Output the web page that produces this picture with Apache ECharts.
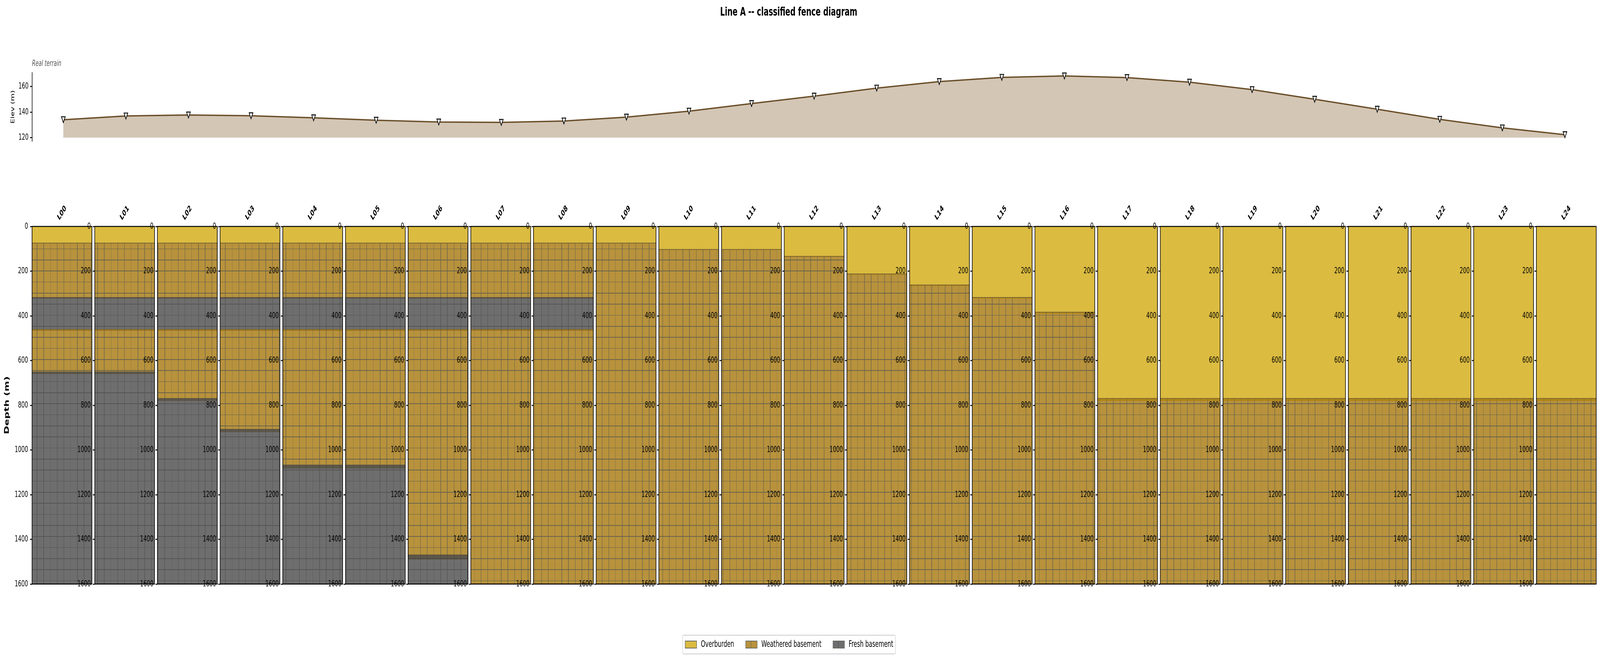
<!DOCTYPE html>
<html>
<head>
<meta charset="utf-8">
<style>html,body{margin:0;padding:0;background:#fff;overflow:hidden;height:100%}#c{width:6739px;height:1688px;transform-origin:0 0}</style>
<script src="https://cdn.jsdelivr.net/npm/echarts@6/dist/echarts.min.js"></script>
</head>
<body>
<div id="c"></div>
<script>
const lineNames = ['L00','L01','L02','L03','L04','L05','L06','L07','L08','L09','L10','L11','L12','L13','L14','L15','L16','L17','L18','L19','L20','L21','L22','L23','L24'];
const elevation = [134.0,136.9,137.7,137.1,135.5,133.6,132.2,131.9,133.0,136.0,140.7,146.6,152.4,158.7,163.8,167.1,168.2,166.9,163.3,157.5,150.0,142.2,134.3,127.6,122.3];
const overburdenBase = [74,74,74,74,74,74,74,74,74,74,102,102,133,212,261,317,383,769,769,769,769,769,769,769,769];
const freshBandTop = [317,317,317,317,317,317,317,317,317,null,null,null,null,null,null,null,null,null,null,null,null,null,null,null,null];
const freshBandBase = [459,459,459,459,459,459,459,459,459,null,null,null,null,null,null,null,null,null,null,null,null,null,null,null,null];
const weatheredBase = [650,650,769,907,1067,1067,1469,1600,1600,1600,1600,1600,1600,1600,1600,1600,1600,1600,1600,1600,1600,1600,1600,1600,1600];
const MAX_DEPTH = 1600;
const depthTicks = 200;
const elevTicks = [120,140,160];

// The window may be narrower than the chart's design width: fit the width to it.
const DESIGN_W = 6739;
if (window.innerWidth < DESIGN_W) {
  document.getElementById('c').style.transform = 'scaleX(' + (window.innerWidth / DESIGN_W) + ')';
}

const COL_O = '#dbbb40', COL_W = '#b8923c', COL_F = '#6e6e6e';
const LINE_W = '#69634c', LINE_F = '#555555';
const FONT = '"DejaVu Sans"';

function tile(base, line) {
  const c = document.createElement('canvas');
  c.width = 85; c.height = 85;
  const x = c.getContext('2d');
  x.fillStyle = base; x.fillRect(0,0,85,85);
  x.fillStyle = line;
  x.fillRect(40,0,5,85);
  x.fillRect(0,40,85,5);
  return {image:c, repeat:'repeat', scaleX:1/3, scaleY:1/3, x:0, y:0};
}
function legendTile(base, line) {
  const c = document.createElement('canvas');
  c.width = 48; c.height = 18;
  const x = c.getContext('2d');
  x.fillStyle = base; x.fillRect(0,0,48,18);
  x.fillStyle = line;
  x.fillRect(21,0,2,18);
  return {image:c, repeat:'repeat'};
}
const PAT_W = tile(COL_W, LINE_W);
const PAT_F = tile(COL_F, LINE_F);
const classes = {
  O:{name:'Overburden', fill:COL_O},
  W:{name:'Weathered basement', fill:PAT_W},
  F:{name:'Fresh basement', fill:PAT_F}
};
const stripTint = {
  OW:'rgba(170,125,0,0.6)',
  WF:'rgba(70,60,30,0.45)',
  FW:'rgba(120,85,0,0.45)'
};

function layersOf(i) {
  const out = [{c:'O', top:0, bot:overburdenBase[i]}];
  if (freshBandTop[i] != null) {
    out.push({c:'W', top:overburdenBase[i], bot:freshBandTop[i]});
    out.push({c:'F', top:freshBandTop[i], bot:freshBandBase[i]});
    out.push({c:'W', top:freshBandBase[i], bot:weatheredBase[i]});
  } else {
    out.push({c:'W', top:overburdenBase[i], bot:weatheredBase[i]});
  }
  if (weatheredBase[i] < MAX_DEPTH) out.push({c:'F', top:weatheredBase[i], bot:MAX_DEPTH});
  return out;
}

const PANEL_LEFT = 135, PANEL_PITCH = 264, PANEL_W = 252, PANEL_TOP = 580, PANEL_H = 916;
const grids = [], xAxes = [], yAxes = [], series = [];

grids.push({left:135, top:186, width:6588, height:175.7, show:false});
xAxes.push({type:'value', gridIndex:0, min:-0.5, max:24.5, show:false});
yAxes.push({type:'value', gridIndex:0, min:117.2, max:170.8, splitLine:{show:false},
  name:'Elev (m)', nameLocation:'middle', nameGap:70, nameRotate:90,
  nameTextStyle:{fontFamily:FONT, fontSize:20.5, color:'#000'},
  axisLine:{show:true, onZero:false, lineStyle:{color:'#000', width:2.5}},
  axisTick:{show:true, length:8, lineStyle:{color:'#000', width:2.5}, customValues:elevTicks},
  axisLabel:{fontFamily:FONT, fontSize:22, color:'#000', margin:15, customValues:elevTicks}});
series.push({type:'line', xAxisIndex:0, yAxisIndex:0, animation:false,
  data:elevation.map((v,i)=>[i,v]), showSymbol:true, symbol:'triangle', symbolSize:[16,15], symbolRotate:180,
  itemStyle:{color:'#fff', borderColor:'#000', borderWidth:2.5},
  lineStyle:{color:'#6b4f2a', width:3.5},
  areaStyle:{color:'#d3c6b5', opacity:1, origin:120}, z:3});

lineNames.forEach((nm,i)=>{
  const g = i+1;
  grids.push({left:PANEL_LEFT+PANEL_PITCH*i, top:PANEL_TOP, width:PANEL_W, height:PANEL_H,
    show:true, z:6, backgroundColor:'transparent', borderColor:'#000', borderWidth:2.5});
  xAxes.push({type:'category', gridIndex:g, position:'top', data:[nm], z:7,
    axisLine:{show:false}, axisTick:{show:false}, splitLine:{show:false},
    axisLabel:{rotate:45, margin:34, align:'center', verticalAlign:'middle', fontFamily:FONT, fontWeight:'bold', fontSize:21.5, color:'#000', interval:0}});
  const y = {type:'value', gridIndex:g, inverse:true, min:0, max:MAX_DEPTH, interval:depthTicks, z:8,
    splitLine:{show:false},
    axisLine:{show:false},
    axisTick:{show:true, length:8, lineStyle:{color:'#000', width:2.5}},
    axisLabel:{fontFamily:FONT, fontSize:22, color:'#000', margin:17, formatter:v=>String(v)}};
  if (i===0) Object.assign(y, {name:'Depth (m)', nameLocation:'middle', nameGap:92, nameRotate:90,
    nameTextStyle:{fontFamily:FONT, fontSize:26, fontWeight:'bold', color:'#000'}});
  yAxes.push(y);
  const layers = layersOf(i);
  ['O','W','F'].forEach(key=>{
    const items = [];
    layers.forEach((l,li)=>{ if (l.c===key) items.push([l.top,l.bot, li>0 ? layers[li-1].c : '']); });
    series.push({
      type:'custom', name:classes[key].name, coordinateSystem:'cartesian2d',
      xAxisIndex:g, yAxisIndex:g, animation:false, silent:true, z:2, clip:false,
      encode:{y:[0,1]},
      dimensions:[{name:'top',type:'number'},{name:'bot',type:'number'},{name:'prev',type:'ordinal'}],
      itemStyle:{color:key==='O'?COL_O:(key==='W'?COL_W:COL_F)},
      data:items,
      renderItem:function(params, api){
        const cs = params.coordSys;
        const t = api.value(0), b = api.value(1);
        const y0 = api.coord([0,t])[1], y1 = api.coord([0,b])[1];
        const kids = [{type:'rect', shape:{x:cs.x, y:y0, width:cs.width, height:y1-y0},
          style:{fill:classes[key].fill}}];
        const prev = items[params.dataIndex][2];
        if (prev) {
          const y2 = api.coord([0,t*1.0129+2])[1];
          kids.push({type:'rect', shape:{x:cs.x, y:y0, width:cs.width, height:y2-y0},
            style:{fill:stripTint[prev+key]}});
          kids.push({type:'rect', shape:{x:cs.x, y:y0-0.5, width:cs.width, height:1.5},
            style:{fill:'rgba(80,75,60,0.8)'}});
        }
        return {type:'group', children:kids};
      }
    });
  });
});

const swatch = (c)=>({color:c, borderColor:'#696a60', borderWidth:2});
const chart = echarts.init(document.getElementById('c'), null, {renderer:'canvas', width:DESIGN_W, height:1688});
chart.setOption({
  animation:false, backgroundColor:'#fff',
  title:[
    {text:'Line A -- classified fence diagram', left:3322, top:16, textAlign:'center',
      textStyle:{fontFamily:FONT, fontSize:30.8, fontWeight:'bold', color:'#000'}, padding:0},
    {text:'Real terrain', left:135, top:153, padding:0,
      textStyle:{fontFamily:FONT, fontStyle:'italic', fontWeight:'normal', fontSize:21, color:'#555'}}
  ],
  grid:grids, xAxis:xAxes, yAxis:yAxes, series:series,
  legend:{
    left:2875, top:1627, orient:'horizontal', padding:[12,10], itemGap:48, itemWidth:48, itemHeight:18,
    borderColor:'#ccc', borderWidth:2, borderRadius:5, backgroundColor:'#fff', icon:'rect',
    selectedMode:false,
    textStyle:{fontFamily:FONT, fontSize:23.5, color:'#000', padding:[0,0,0,13]},
    data:[
      {name:'Overburden', icon:'rect', itemStyle:swatch(COL_O)},
      {name:'Weathered basement', icon:'rect', itemStyle:swatch(legendTile(COL_W, LINE_W))},
      {name:'Fresh basement', icon:'rect', itemStyle:swatch(legendTile(COL_F, LINE_F))}
    ]
  }
});
</script>
</body>
</html>
